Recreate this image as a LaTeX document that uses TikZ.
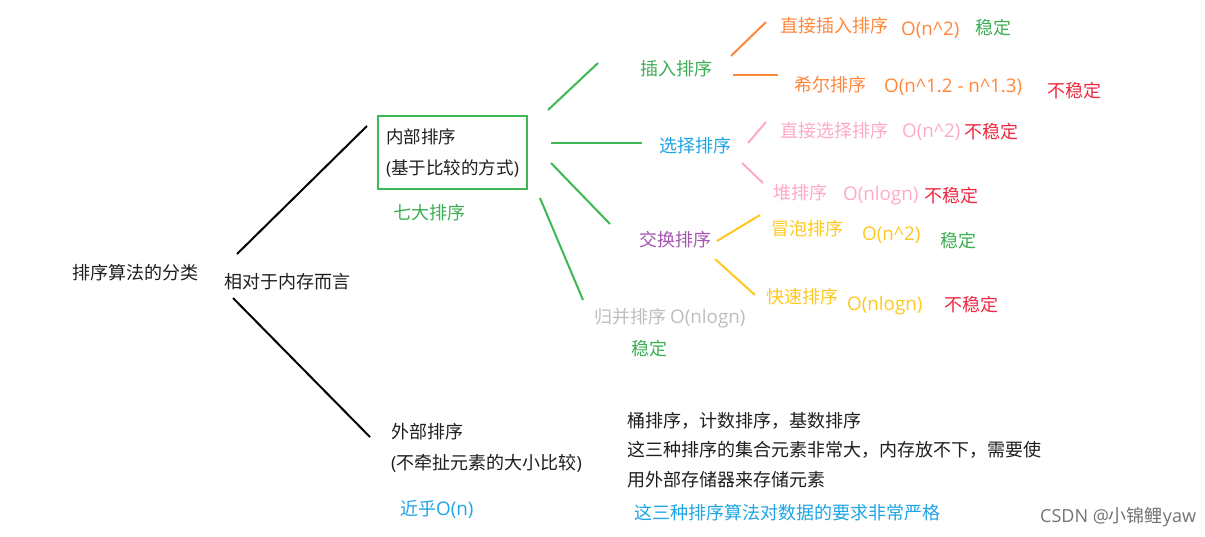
\documentclass[tikz,border=0pt]{standalone}
\usepackage{fontspec}
\setmainfont{Noto Sans CJK SC}
\newfontfamily\lat{Open Sans}
\definecolor{cgreen}{RGB}{60,175,85}
\definecolor{lgreen}{RGB}{60,185,85}
\definecolor{corange}{RGB}{255,135,60}
\definecolor{cpink}{RGB}{255,170,195}
\definecolor{cred}{RGB}{240,40,65}
\definecolor{cblue}{RGB}{30,165,230}
\definecolor{cpurple}{RGB}{165,85,175}
\definecolor{cyellow}{RGB}{255,200,30}
\definecolor{cgray}{RGB}{190,190,190}
\definecolor{ctext}{RGB}{30,30,30}
\begin{document}
\begin{tikzpicture}[x=1pt,y=-1pt,
  t/.style={inner sep=0pt, anchor=west, text=ctext, font=\fontsize{18}{20}\selectfont},
  lt/.style={t, font=\fontsize{18.8}{20}\selectfont\lat},
  ln/.style={line width=2pt},
  box/.style={draw=lgreen, line width=1.6pt, minimum width=149pt, minimum height=73pt, inner sep=0pt, align=left, text=ctext, font=\fontsize{17.5}{31}\selectfont}]
\useasboundingbox[fill=white] (0,0) rectangle (1205,536);

% root
\node[t] (root) at (72,273) {排序算法的分类};
\node[t] (mem) at (224,282) {相对于内存而言};

% internal
\node[box] (inner) at (452.5,152.5) {内部排序\\{\lat(}基于比较的方式{\lat)}};
\node[t, text=cgreen] (seven) at (393,213) {七大排序};

% external
\node[t] (ext1) at (391,432) {外部排序};
\node[t] (ext2) at (391,463) {{\lat(}不牵扯元素的大小比较{\lat)}};
\node[t, text=cblue] (near) at (400,509) {近乎{\lat\fontsize{18.8}{20}\selectfont O(n)}};
\node[t] (r1) at (627,421) {桶排序，计数排序，基数排序};
\node[t] (r2) at (627,450) {这三种排序的集合元素非常大，内存放不下，需要使};
\node[t] (r3) at (627,480) {用外部存储器来存储元素};
\node[t, text=cblue] (r4) at (634,513) {这三种排序算法对数据的要求非常严格};

% black connectors
\coordinate (b1s) at (237,254); \coordinate (b1e) at (367,126);
\coordinate (b2s) at (233,298); \coordinate (b2e) at (370,437);
\draw[ln, black] (b1s) -- (b1e);
\draw[ln, black] (b2s) -- (b2e);

% second level
\node[t, text=cgreen] (ins) at (640,69) {插入排序};
\node[t, text=cblue] (sel) at (659,146) {选择排序};
\node[t, text=cpurple] (swp) at (639,240) {交换排序};
\node[t, text=cgray] (mrg) at (594,318) {归并排序 {\lat\fontsize{18.8}{20}\selectfont O(nlogn)}};
\node[t, text=cgreen] (mrgs) at (631,349) {稳定};

\coordinate (g1s) at (548,110); \coordinate (g1e) at (598,63);
\coordinate (g2s) at (551,143); \coordinate (g2e) at (642,143);
\coordinate (g3s) at (551,163); \coordinate (g3e) at (610,224);
\coordinate (g4s) at (540,198); \coordinate (g4e) at (583,300);
\draw[ln, lgreen] (g1s) -- (g1e);
\draw[ln, lgreen] (g2s) -- (g2e);
\draw[ln, lgreen] (g3s) -- (g3e);
\draw[ln, lgreen] (g4s) -- (g4e);

% insertion
\node[t, text=corange] (dins) at (780,26) {直接插入排序};
\node[lt, text=corange] (dinsO) at (901,30) {O(n\^{}2)};
\node[t, text=cgreen] (dinsS) at (975,28) {稳定};
\node[t, text=corange] (shell) at (794,85) {希尔排序};
\node[lt, text=corange] (shellO) at (884,87) {O(n\^{}1.2 - n\^{}1.3)};
\node[t, text=cred] (shellS) at (1047,91) {不稳定};
\coordinate (o1s) at (731,56); \coordinate (o1e) at (766,22);
\coordinate (o2s) at (733,75); \coordinate (o2e) at (778,75);
\draw[ln, corange] (o1s) -- (o1e);
\draw[ln, corange] (o2s) -- (o2e);

% selection
\node[t, text=cpink] (dsel) at (780,131) {直接选择排序};
\node[lt, text=cpink] (dselO) at (902,132) {O(n\^{}2)};
\node[t, text=cred] (dselS) at (964,132) {不稳定};
\node[t, text=cpink] (heap) at (773,193) {堆排序};
\node[lt, text=cpink] (heapO) at (843,196) {O(nlogn)};
\node[t, text=cred] (heapS) at (924,196) {不稳定};
\coordinate (p1s) at (748,143); \coordinate (p1e) at (766,122);
\coordinate (p2s) at (742,163); \coordinate (p2e) at (763,183);
\draw[ln, cpink] (p1s) -- (p1e);
\draw[ln, cpink] (p2s) -- (p2e);

% exchange
\node[t, text=cyellow] (bub) at (771,229) {冒泡排序};
\node[lt, text=cyellow] (bubO) at (862,235) {O(n\^{}2)};
\node[t, text=cgreen] (bubS) at (940,241) {稳定};
\node[t, text=cyellow] (qs) at (766,297) {快速排序};
\node[lt, text=cyellow] (qsO) at (847,306) {O(nlogn)};
\node[t, text=cred] (qsS) at (944,305) {不稳定};
\coordinate (y1s) at (717,241); \coordinate (y1e) at (760,215);
\coordinate (y2s) at (715,259); \coordinate (y2e) at (755,295);
\draw[ln, cyellow] (y1s) -- (y1e);
\draw[ln, cyellow] (y2s) -- (y2e);

% watermark
\node[t, text=black!55, font=\fontsize{18}{20}\selectfont] (wm) at (1040,517) {{\lat CSDN @}小锦鲤{\lat yaw}};
\end{tikzpicture}
\end{document}
